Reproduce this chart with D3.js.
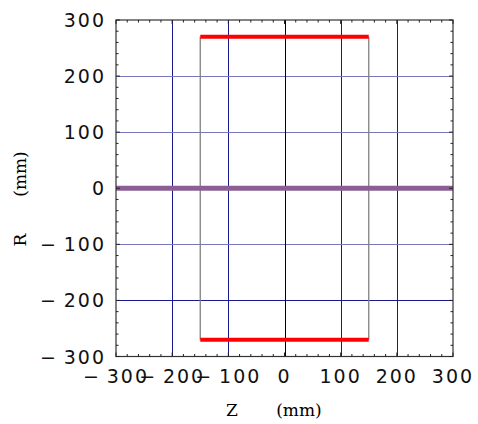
<!DOCTYPE html>
<html>
<head>
<meta charset="utf-8">
<script src="https://cdn.jsdelivr.net/npm/d3@7"></script>
<style>
body { margin: 0; background: #fff; }
svg { display: block; }
</style>
</head>
<body>
<div id="chart"></div>
<script>
var width = 478;
var height = 424;

// data
var zTicks = [-300, -200, -100, 0, 100, 200, 300];
var rTicks = [-300, -200, -100, 0, 100, 200, 300];
var gridZ = [-200, -100, 100, 200];
var gridR = [200, 100, -100, -200];
var wallZ = [-150, 150];       // gray vertical boundaries
var wallR = 270;               // red plates at +/- R
var plateZ = [-150, 150];
var axisLine = [-300, 300];    // purple axis at R = 0

var xScale = d3.scaleLinear().domain([-300, 300]).range([116, 453]);
var yScale = d3.scaleLinear().domain([-300, 300]).range([356.5, 20]);

var svg = d3.select("#chart")
    .append("svg")
    .attr("width", width)
    .attr("height", height);

// grid
svg.selectAll(".gz")
    .data(gridZ)
    .enter()
    .append("line")
    .attr("x1", function(d) { return Math.round(xScale(d)) + 0.5; })
    .attr("x2", function(d) { return Math.round(xScale(d)) + 0.5; })
    .attr("y1", yScale(300))
    .attr("y2", yScale(-300))
    .attr("stroke", "#1a1a8c")
    .attr("stroke-width", 1);

svg.selectAll(".gr")
    .data(gridR)
    .enter()
    .append("line")
    .attr("x1", xScale(-300))
    .attr("x2", xScale(300))
    .attr("y1", function(d) { return Math.round(yScale(d)) + 0.5; })
    .attr("y2", function(d) { return Math.round(yScale(d)) + 0.5; })
    .attr("stroke", function(d) { return d == -200 ? "#1a1a8c" : "#7777bb"; })
    .attr("stroke-width", 1);

// z = 0 line
svg.append("line")
    .attr("x1", Math.round(xScale(0)) + 0.5)
    .attr("x2", Math.round(xScale(0)) + 0.5)
    .attr("y1", yScale(300))
    .attr("y2", yScale(-300))
    .attr("stroke", "black")
    .attr("stroke-width", 1);

// gray walls
svg.selectAll(".wall")
    .data(wallZ)
    .enter()
    .append("line")
    .attr("x1", function(d) { return xScale(d); })
    .attr("x2", function(d) { return xScale(d); })
    .attr("y1", yScale(wallR))
    .attr("y2", yScale(-wallR))
    .attr("stroke", "#808080")
    .attr("stroke-width", 1.3);

// red plates
svg.selectAll(".plate")
    .data([wallR, -wallR])
    .enter()
    .append("line")
    .attr("x1", xScale(plateZ[0]))
    .attr("x2", xScale(plateZ[1]))
    .attr("y1", function(d) { return yScale(d); })
    .attr("y2", function(d) { return yScale(d); })
    .attr("stroke", "#ff0000")
    .attr("stroke-width", 4);

// purple axis
svg.append("line")
    .attr("x1", xScale(axisLine[0]))
    .attr("x2", xScale(axisLine[1]))
    .attr("y1", yScale(0))
    .attr("y2", yScale(0))
    .attr("stroke", "#8c5e96")
    .attr("stroke-width", 5);

// frame
svg.append("rect")
    .attr("x", xScale(-300))
    .attr("y", yScale(300))
    .attr("width", xScale(300) - xScale(-300))
    .attr("height", yScale(-300) - yScale(300))
    .attr("fill", "none")
    .attr("stroke", "#333")
    .attr("stroke-width", 1.2);

// ticks (inward)
var minor = d3.range(-300, 301, 20);
var x0 = xScale(-300), x1 = xScale(300), y0 = yScale(300), y1 = yScale(-300);
minor.forEach(function(v) {
    var len = (v % 100 == 0) ? 4 : 2.5;
    var X = xScale(v), Y = yScale(v);
    svg.append("line").attr("x1", X).attr("x2", X).attr("y1", y1).attr("y2", y1 - len).attr("stroke", "#222");
    svg.append("line").attr("x1", X).attr("x2", X).attr("y1", y0).attr("y2", y0 + len).attr("stroke", "#222");
    svg.append("line").attr("x1", x0).attr("x2", x0 + len).attr("y1", Y).attr("y2", Y).attr("stroke", "#222");
    svg.append("line").attr("x1", x1).attr("x2", x1 - len).attr("y1", Y).attr("y2", Y).attr("stroke", "#222");
});

function fmt(v) { return v < 0 ? "\u2212\u2009" + (-v) : "" + v; }

// tick labels
svg.selectAll(".rl")
    .data(rTicks)
    .enter()
    .append("text")
    .attr("x", 106)
    .attr("y", function(d) { return yScale(d) + 7; })
    .attr("text-anchor", "end")
    .style("font-family", "'DejaVu Sans', sans-serif")
    .style("font-size", "19px")
    .style("letter-spacing", "2px")
    .attr("fill", "#111")
    .text(fmt);

svg.selectAll(".zl")
    .data(zTicks)
    .enter()
    .append("text")
    .attr("x", function(d) { return xScale(d); })
    .attr("y", 383)
    .attr("text-anchor", "middle")
    .style("font-family", "'DejaVu Sans', sans-serif")
    .style("font-size", "19px")
    .style("letter-spacing", "2px")
    .attr("fill", "#111")
    .text(fmt);

// axis titles
var titleFont = "'DejaVu Serif', serif";
svg.append("text")
    .attr("x", 232)
    .attr("y", 416)
    .attr("text-anchor", "middle")
    .style("font-family", titleFont)
    .style("font-size", "17px")
    .text("Z");
svg.append("text")
    .attr("x", 299)
    .attr("y", 416)
    .attr("text-anchor", "middle")
    .style("font-family", titleFont)
    .style("font-size", "17px")
    .text("(mm)");

svg.append("text")
    .attr("transform", "translate(26,240) rotate(-90)")
    .attr("text-anchor", "middle")
    .style("font-family", titleFont)
    .style("font-size", "17px")
    .text("R");
svg.append("text")
    .attr("transform", "translate(26,174) rotate(-90)")
    .attr("text-anchor", "middle")
    .style("font-family", titleFont)
    .style("font-size", "17px")
    .text("(mm)");
</script>
</body>
</html>
